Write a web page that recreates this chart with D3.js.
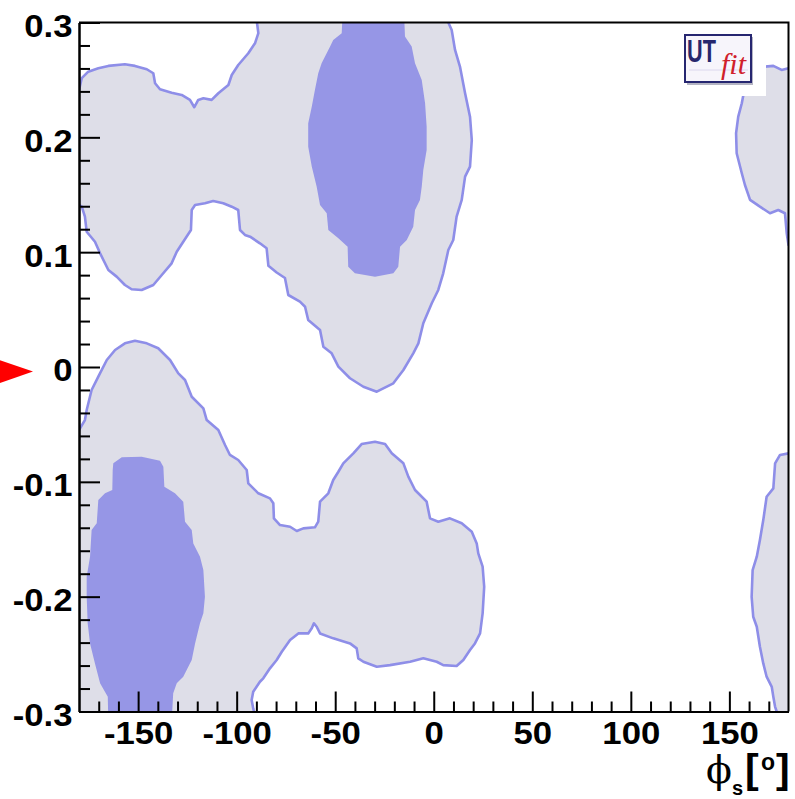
<!DOCTYPE html>
<html>
<head>
<meta charset="utf-8">
<script src="https://cdn.jsdelivr.net/npm/d3@7"></script>
<style>
  html, body { margin: 0; padding: 0; background: #ffffff; }
  svg { display: block; }
</style>
</head>
<body>
<svg id="chart" width="795" height="799"></svg>
<script>
// ---- axis ticks ----
const phiMajorTicks = [-150, -100, -50, 0, 50, 100, 150];
const phiTickLabels = ["-150", "-100", "-50", "0", "50", "100", "150"];
const yMajorTicks = [-0.3, -0.2, -0.1, 0, 0.1, 0.2, 0.3];
const yTickLabels = ["-0.3", "-0.2", "-0.1", "0", "0.1", "0.2", "0.3"];

// ---- 95% probability region (outer, light) ----
// Upper-left lobe joined to the central lobe around phi_s ~ -30
const region95Upper = [
  [-185, 0.2413], [-180, 0.2413], [-178.6, 0.2515], [-175.3, 0.2572], [-170.2, 0.2602], [-165.1, 0.2622],
  [-156.7, 0.2636], [-151.6, 0.2622], [-145.6, 0.2593], [-142.3, 0.2558], [-141.4, 0.2471],
  [-138.9, 0.2419], [-133.0, 0.2389], [-127.9, 0.2369], [-123.7, 0.2326], [-121.5, 0.2262],
  [-119.5, 0.2326], [-116.9, 0.2340], [-112.7, 0.2326], [-109.3, 0.2384], [-104.2, 0.2456],
  [-102.5, 0.2543], [-99.2, 0.2630], [-94.1, 0.2732], [-90.7, 0.2819], [-89.0, 0.2907],
  [-89.7, 0.3], [-89.7, 0.31], [7.4, 0.31], [7.4, 0.3],
  [9.1, 0.2935], [10.8, 0.2761], [13.3, 0.2616], [15.9, 0.2384], [18.4, 0.2180], [19.3, 0.1977],
  [18.4, 0.1745], [15.9, 0.1658], [14.2, 0.1455], [11.6, 0.1309], [9.9, 0.1106], [7.4, 0.1019],
  [4.8, 0.0816], [2.3, 0.0671], [-1.0, 0.0555], [-5.3, 0.0381], [-7.8, 0.0206], [-10.4, 0.0119],
  [-15.4, -0.0026], [-20.5, -0.0142], [-28.9, -0.0215], [-35.7, -0.0172], [-42.5, -0.0098],
  [-48.4, 0.0003], [-51.8, 0.0119], [-56.0, 0.0177], [-57.7, 0.0322], [-63.7, 0.0409],
  [-65.3, 0.0525], [-67.9, 0.0569], [-73.8, 0.0627], [-75.5, 0.0775], [-79.7, 0.0823],
  [-83.9, 0.0881], [-84.8, 0.1034], [-88.2, 0.1077], [-93.2, 0.1135], [-95.8, 0.1150],
  [-98.3, 0.1193], [-99.2, 0.1367], [-102.5, 0.1396], [-106.8, 0.1426], [-111.9, 0.1446],
  [-116.1, 0.1426], [-121.1, 0.1411], [-122.8, 0.1367], [-123.2, 0.1193], [-127.1, 0.1091],
  [-130.4, 0.1004], [-133.0, 0.0903], [-138.0, 0.0801], [-142.3, 0.0714], [-148.2, 0.0671],
  [-153.3, 0.0677], [-156.7, 0.0714], [-160.9, 0.0787], [-165.1, 0.0845], [-169.3, 0.0990],
  [-171.9, 0.1091], [-176.1, 0.1178], [-177.0, 0.1309], [-178.6, 0.1396], [-180, 0.1411], [-185, 0.1411]
];

// Lower-left lobe joined to the lobe around phi_s ~ -25
const region95Lower = [
  [-185, -0.0549], [-180, -0.0549], [-177.0, -0.0462], [-176.1, -0.0375], [-173.6, -0.0200], [-170.2, -0.0084],
  [-165.9, 0.0061], [-161.7, 0.0148], [-156.7, 0.0206], [-151.6, 0.0229], [-145.6, 0.0206],
  [-139.8, 0.0163], [-133.8, 0.0061], [-129.6, -0.0055], [-126.2, -0.0113], [-122.8, -0.0259],
  [-116.9, -0.0360], [-115.2, -0.0462], [-109.3, -0.0549], [-105.9, -0.0679], [-103.4, -0.0766],
  [-99.2, -0.0810], [-94.9, -0.0897], [-94.1, -0.1013], [-89.0, -0.1100], [-83.1, -0.1144],
  [-81.4, -0.1187], [-81.1, -0.1318], [-78.0, -0.1376], [-72.9, -0.1391], [-69.5, -0.1428],
  [-66.2, -0.1405], [-60.3, -0.1396], [-58.6, -0.1347], [-57.7, -0.1173], [-53.5, -0.1100],
  [-51.0, -0.0984], [-48.4, -0.0912], [-45.9, -0.0839], [-40.8, -0.0752], [-36.6, -0.0671],
  [-29.8, -0.0651], [-24.7, -0.0671], [-21.3, -0.0752], [-15.4, -0.0839], [-12.9, -0.0955],
  [-9.5, -0.1071], [-3.6, -0.1173], [-1.9, -0.1318], [2.3, -0.1347], [8.2, -0.1318],
  [14.2, -0.1361], [19.3, -0.1435], [21.8, -0.1536], [22.6, -0.1623], [24.8, -0.1739],
  [25.6, -0.1914], [24.8, -0.2145], [23.5, -0.2320], [20.9, -0.2407], [18.4, -0.2465],
  [15.0, -0.2552], [11.6, -0.2604], [4.8, -0.2596], [1.5, -0.2567], [-5.3, -0.2537],
  [-12.0, -0.2567], [-22.2, -0.2596], [-28.9, -0.2610], [-35.7, -0.2567], [-38.3, -0.2537],
  [-39.1, -0.2450], [-42.5, -0.2407], [-51.0, -0.2363], [-57.7, -0.2320], [-59.4, -0.2262],
  [-60.8, -0.2232], [-61.9, -0.2276], [-63.7, -0.2320], [-68.7, -0.2320], [-72.9, -0.2378],
  [-77.1, -0.2480], [-79.7, -0.2552], [-83.1, -0.2624], [-86.5, -0.2711], [-88.2, -0.2741],
  [-91.6, -0.2828], [-92.4, -0.2900], [-91.6, -0.2973], [-91.2, -0.3], [-91.2, -0.31],
  [-185, -0.31]
];

// Wrap-around pieces at phi_s ~ +180
const region95EdgeUpper = [
  [185, 0.2602], [180, 0.2602], [176.5, 0.2587], [172.3, 0.2622], [168.1, 0.2616], [163.0, 0.2604],
  [158.4, 0.2543], [156.4, 0.2430], [157.1, 0.2369], [156.3, 0.2297], [154.5, 0.2180],
  [153.4, 0.2036], [153.7, 0.1861], [156.3, 0.1687], [157.9, 0.1585], [160.5, 0.1455],
  [165.5, 0.1396], [170.6, 0.1339], [174.8, 0.1367], [178.2, 0.1339], [179.1, 0.1165],
  [180, 0.1063], [185, 0.1063]
];

const region95EdgeLower = [
  [185, -0.0752], [180, -0.0752], [175.7, -0.0766], [173.2, -0.0839], [172.3, -0.1057], [168.9, -0.1130],
  [167.2, -0.1333], [165.5, -0.1507], [163.9, -0.1652], [161.8, -0.1768], [161.3, -0.2001],
  [162.1, -0.2175], [163.9, -0.2262], [165.5, -0.2436], [167.2, -0.2581], [168.9, -0.2697],
  [171.5, -0.2785], [172.3, -0.2872], [173.2, -0.2959], [174.0, -0.3], [174.0, -0.31], [185, -0.31]
];

// ---- 68% probability region (inner, dark) ----
const region68Upper = [
  [-46.2, 0.31], [-46.7, 0.2907], [-51.0, 0.2848], [-52.6, 0.2790], [-56.9, 0.2645], [-58.6, 0.2558],
  [-60.3, 0.2413], [-61.9, 0.2267], [-63.7, 0.2123], [-63.7, 0.1919], [-61.9, 0.1745],
  [-59.4, 0.1570], [-57.7, 0.1411], [-54.3, 0.1339], [-53.5, 0.1193], [-48.4, 0.1121],
  [-43.7, 0.1048], [-43.4, 0.0874], [-40.0, 0.0816], [-29.8, 0.0787], [-20.5, 0.0816],
  [-18.0, 0.0874], [-17.1, 0.1048], [-13.7, 0.1106], [-10.4, 0.1222], [-9.5, 0.1367],
  [-7.0, 0.1455], [-6.1, 0.1570], [-5.3, 0.1716], [-3.6, 0.1890], [-3.6, 0.2093],
  [-4.4, 0.2297], [-6.1, 0.2500], [-9.5, 0.2645], [-11.2, 0.2790], [-14.6, 0.2877], [-15.1, 0.31]
];

const region68Lower = [
  [-165.1, -0.31], [-165.4, -0.2872], [-169.3, -0.2755], [-171.9, -0.2581], [-174.4, -0.2407],
  [-175.6, -0.2232], [-176.1, -0.2001], [-176.1, -0.1826], [-174.4, -0.1652], [-173.6, -0.1420],
  [-171.0, -0.1361], [-170.2, -0.1158], [-166.8, -0.1100], [-163.1, -0.1071], [-162.9, -0.0897],
  [-162.6, -0.0839], [-158.3, -0.0787], [-148.2, -0.0781], [-138.9, -0.0816], [-137.2, -0.0868],
  [-136.7, -0.1043], [-131.3, -0.1100], [-127.1, -0.1173], [-126.2, -0.1347], [-122.8, -0.1420],
  [-122.0, -0.1536], [-118.6, -0.1652], [-116.9, -0.1768], [-116.1, -0.2001], [-116.9, -0.2145],
  [-118.6, -0.2232], [-121.1, -0.2407], [-122.8, -0.2552], [-127.1, -0.2697], [-130.4, -0.2755],
  [-132.2, -0.2842], [-133.0, -0.31]
];

// Reference value marked on the vertical axis
const referenceValue = -0.004;

// ---- layout ----
const plot = { left: 79, right: 788.5, top: 22.5, bottom: 711.5 };
const svg = d3.select("#chart");

const x = d3.scaleLinear().domain([-180, 180]).range([plot.left, plot.right]);
const y = d3.scaleLinear().domain([-0.3, 0.3]).range([plot.bottom, plot.top]);

const colors = {
  light: "#dedee8",
  dark: "#9696e6",
  outline: "#8e8ee8"
};

svg.append("defs").append("clipPath").attr("id", "plot-clip")
  .append("rect")
  .attr("x", plot.left).attr("y", plot.top)
  .attr("width", plot.right - plot.left).attr("height", plot.bottom - plot.top);

const line = d3.line().x(d => x(d[0])).y(d => y(d[1]));
const area = d => line(d) + "Z";

const contours = svg.append("g").attr("clip-path", "url(#plot-clip)");

[region95Upper, region95Lower, region95EdgeUpper, region95EdgeLower].forEach(r => {
  contours.append("path")
    .attr("d", area(r))
    .attr("fill", colors.light)
    .attr("stroke", colors.outline)
    .attr("stroke-width", 2.6)
    .attr("stroke-linejoin", "round");
});

[region68Upper, region68Lower].forEach(r => {
  contours.append("path")
    .attr("d", area(r))
    .attr("fill", colors.dark)
    .attr("stroke", "none");
});

// ---- logo ----
const logo = svg.append("g");
logo.append("rect")
  .attr("x", 681).attr("y", 30).attr("width", 85).attr("height", 66)
  .attr("fill", "#ffffff");
logo.append("rect")
  .attr("x", 687).attr("y", 37).attr("width", 66).attr("height", 48)
  .attr("fill", "#6a6a88").attr("opacity", 0.5);
logo.append("rect")
  .attr("x", 685).attr("y", 35).attr("width", 66).attr("height", 47)
  .attr("fill", "#f7f5fb")
  .attr("stroke", "#262670").attr("stroke-width", 2);
logo.append("line")
  .attr("x1", 689).attr("x2", 748).attr("y1", 70).attr("y2", 70)
  .attr("stroke", "#dcd8ee").attr("stroke-width", 1);
logo.append("text")
  .attr("transform", "translate(687,62) scale(0.7,1)")
  .attr("font-family", "'Liberation Sans', Arial, sans-serif")
  .attr("font-weight", "bold").attr("font-size", 31)
  .attr("fill", "#27276c")
  .text("UT");
logo.append("text")
  .attr("x", 721).attr("y", 74)
  .attr("font-family", "'Liberation Serif', 'Times New Roman', serif")
  .attr("font-style", "italic").attr("font-size", 30)
  .attr("fill", "#d0202a")
  .text("fit");

// ---- axes ----
const tickFont = "'Liberation Sans', Arial, Helvetica, sans-serif";
const phiMinor = d3.range(-170, 171, 10).filter(v => !phiMajorTicks.includes(v));
const yMinor = d3.range(-14, 15).map(i => +(i * 0.02).toFixed(2)).filter(v => Math.abs(Math.round(v * 10) - v * 10) > 1e-6);

const xMinorAxis = d3.axisBottom(x).tickValues(phiMinor).tickSize(-10).tickFormat("").tickSizeOuter(0);
const xMajorAxis = d3.axisBottom(x).tickValues(phiMajorTicks).tickSize(-20).tickSizeOuter(0)
  .tickPadding(10).tickFormat((d, i) => phiTickLabels[i]);
const yMinorAxis = d3.axisLeft(y).tickValues(yMinor).tickSize(-11).tickFormat("").tickSizeOuter(0);
const yMajorAxis = d3.axisLeft(y).tickValues(yMajorTicks).tickSize(-21).tickSizeOuter(0)
  .tickPadding(6.5).tickFormat((d, i) => yTickLabels[i]);

function styleAxis(g) {
  g.selectAll("path.domain").attr("stroke", "#000").attr("stroke-width", 2);
  g.selectAll(".tick line").attr("stroke", "#000").attr("stroke-width", 2);
  g.selectAll(".tick text")
    .attr("font-family", tickFont)
    .attr("font-weight", "bold")
    .attr("font-size", 31)
    .attr("fill", "#000");
}

// widen the bold labels a little, as in the ROOT-style rendering
function widenLabels(g) {
  g.selectAll(".tick text").each(function () {
    const w = this.getComputedTextLength();
    d3.select(this).attr("textLength", w * 1.12).attr("lengthAdjust", "spacingAndGlyphs");
  });
}

svg.append("g").attr("transform", `translate(0,${plot.bottom})`).call(xMinorAxis).call(styleAxis);
const gx = svg.append("g").attr("transform", `translate(0,${plot.bottom})`).call(xMajorAxis).call(styleAxis).call(widenLabels);
svg.append("g").attr("transform", `translate(${plot.left},0)`).call(yMinorAxis).call(styleAxis);
const gy = svg.append("g").attr("transform", `translate(${plot.left},0)`).call(yMajorAxis).call(styleAxis).call(widenLabels);
gy.selectAll(".tick text").attr("dy", "0.45em");

// frame top and right
svg.append("path")
  .attr("d", `M${plot.left},${plot.top}H${plot.right}V${plot.bottom}`)
  .attr("fill", "none").attr("stroke", "#000").attr("stroke-width", 2);

// ---- axis title: phi_s [deg] ----
const title = svg.append("g");
title.append("text")
  .attr("x", 706).attr("y", 783)
  .attr("font-family", "'DejaVu Serif', 'Liberation Serif', serif")
  .attr("font-size", 38)
  .attr("fill", "#000")
  .text("ϕ");
title.append("text")
  .attr("x", 732).attr("y", 795)
  .attr("font-family", tickFont).attr("font-weight", "bold")
  .attr("font-size", 20).attr("fill", "#000")
  .text("s");
title.append("text")
  .attr("x", 745).attr("y", 783)
  .attr("font-family", tickFont).attr("font-weight", "bold")
  .attr("font-size", 41).attr("fill", "#000")
  .text("[");
title.append("text")
  .attr("x", 761).attr("y", 770)
  .attr("font-family", tickFont).attr("font-weight", "bold")
  .attr("font-size", 23).attr("fill", "#000")
  .text("o");
title.append("text")
  .attr("x", 776).attr("y", 783)
  .attr("font-family", tickFont).attr("font-weight", "bold")
  .attr("font-size", 41).attr("fill", "#000")
  .text("]");

// ---- reference marker on the vertical axis ----
const ry = y(referenceValue);
svg.append("path")
  .attr("d", `M-2,${ry - 12}L33,${ry}L-2,${ry + 12}Z`)
  .attr("fill", "#ff0000");
</script>
</body>
</html>
